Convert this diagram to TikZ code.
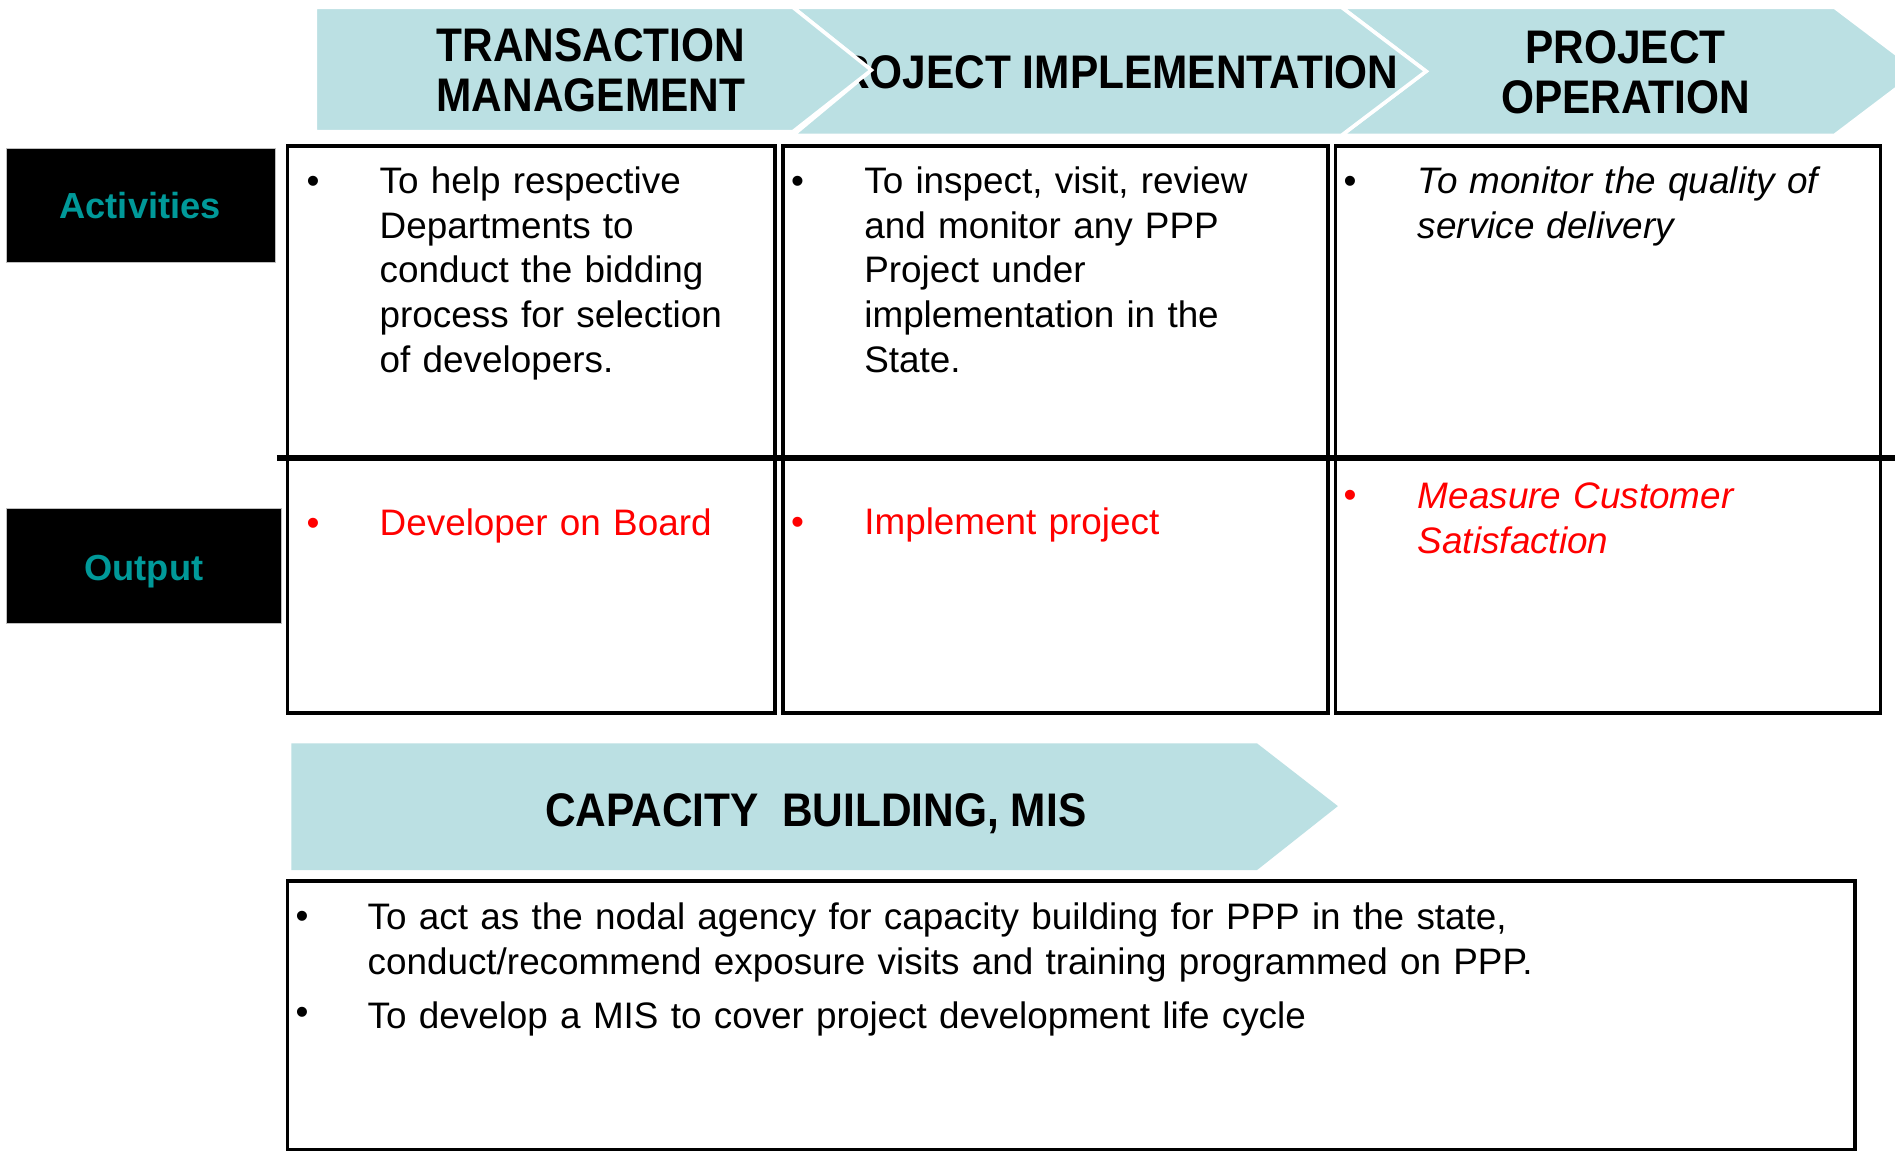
\documentclass[tikz,border=0pt]{standalone}
\usepackage{fontspec}
\setmainfont{Liberation Sans}
\newfontfamily\headfont[FakeStretch=0.9]{Liberation Sans}
\definecolor{chev}{HTML}{BBE0E3}
\definecolor{tealtxt}{HTML}{009999}
\tikzset{
  chevron/.style={fill=chev, draw=white, line width=3pt, line join=miter},
  heading/.style={font=\headfont\bfseries\fontsize{39}{41}\selectfont, align=center, inner sep=0pt},
  label/.style={font=\bfseries\fontsize{30}{36}\selectfont, text=tealtxt, inner sep=0pt, anchor=base},
  labelbox/.style={fill=black, draw=gray!50, line width=0.8pt},
  cell/.style={draw=black, line width=3pt},
  body/.style={font=\fontsize{30.5}{37}\selectfont, anchor=base west, inner sep=0pt, text width=#1, align=left},
  bodyit/.style={font=\fontsize{30.5}{37}\selectfont\itshape, anchor=base west, inner sep=0pt, text width=#1, align=left},
  bul/.style={font=\fontsize{30.5}{37}\selectfont, anchor=base, inner sep=0pt},
}
\begin{document}
\begin{tikzpicture}[x=1pt,y=-1pt]
\useasboundingbox (0,0) rectangle (1568,953);
\clip (0,0) rectangle (1568,953);
\fill[white] (0,0) rectangle (1568,953);

% top chevrons
\draw[chevron] (1110,6) -- (1518,6) -- (1588,59) -- (1518,112) -- (1110,112) -- (1180,59) -- cycle;
\draw[chevron] (656,6) -- (1110,6) -- (1180,59) -- (1110,112) -- (656,112) -- (721,58) -- cycle;
\node[heading] (h2) at (914,60) {PROJECT IMPLEMENTATION};
\draw[chevron] (261,6) -- (656,6) -- (721,58) -- (656,109) -- (261,109) -- cycle;
\node[heading] (h1) at (489,58) {TRANSACTION\\MANAGEMENT};
\node[heading] (h3) at (1345,60) {PROJECT\\OPERATION};

% row labels
\draw[labelbox] (5,123) rectangle (228,217);
\node[label] (act) at (116,181) {Activities};
\draw[labelbox] (5,421) rectangle (233,516);
\node[label] (out) at (119,480) {Output};

% table cells
\draw[cell] (238,121) rectangle (641,590);
\draw[cell] (648,121) rectangle (1099,590);
\draw[cell] (1105,121) rectangle (1556,590);
\draw[black, line width=5pt] (229,379) -- (1568,379);

% activities
\node[bul] (b1) at (259,160) {•};
\node[body=320pt] (t1) at (314,160) {To help respective\\Departments to\\conduct the bidding\\process for selection\\of developers.};
\node[bul] (b2) at (660,160) {•};
\node[body=370pt] (t2) at (715,160) {To inspect, visit, review\\and monitor any PPP\\Project under\\implementation in the\\State.};
\node[bul] (b3) at (1117,160) {•};
\node[bodyit=370pt] (t3) at (1173,160) {To monitor the quality of\\service delivery};

% outputs
\node[bul, text=red] (o1b) at (259,443) {•};
\node[body=320pt, text=red] (o1) at (314,443) {Developer on Board};
\node[bul, text=red] (o2b) at (660,442) {•};
\node[body=370pt, text=red] (o2) at (715,442) {Implement project};
\node[bul, text=red] (o3b) at (1117,420) {•};
\node[bodyit=370pt, text=red] (o3) at (1173,421) {Measure Customer\\Satisfaction};

% capacity building
\fill[chev] (241,615) -- (1040,615) -- (1107,667) -- (1040,720) -- (241,720) -- cycle;
\node[heading, anchor=base] (h4) at (675,684) {CAPACITY\ \ BUILDING, MIS};
\draw[cell] (238,729) rectangle (1535,951);
\node[bul] (c1b) at (250,768) {•};
\node[body=1200pt] (c1) at (304,769) {To act as the nodal agency for capacity building for PPP in the state,\\conduct/recommend exposure visits and training programmed on PPP.};
\node[bul] (c2b) at (250,848) {•};
\node[body=1200pt] (c2) at (304,851) {To develop a MIS to cover project development life cycle};
\end{tikzpicture}
\end{document}
